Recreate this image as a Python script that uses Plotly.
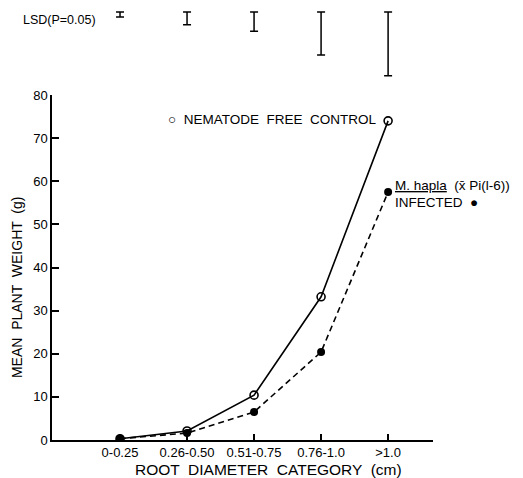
import plotly.graph_objects as go

categories = ["0-0.25", "0.26-0.50", "0.51-0.75", "0.76-1.0", ">1.0"]
cat_pos = [1, 2, 3, 4, 5]
control = [0.3, 2.1, 10.4, 33.2, 74.0]
infected = [0.3, 1.6, 6.5, 20.4, 57.5]
lsd = [1.2, 3.0, 4.5, 10.0, 14.8]
y_ticks = [0, 10, 20, 30, 40, 50, 60, 70, 80]

LSD_TOP = 18.1
FONT = "Liberation Sans, Arial, sans-serif"

fig = go.Figure()

fig.add_trace(go.Scatter(
    x=cat_pos, y=control, mode="lines+markers",
    line=dict(color="black", width=1.6),
    marker=dict(symbol="circle-open", size=8, color="black", line=dict(width=1.6)),
    showlegend=False))
fig.add_trace(go.Scatter(
    x=cat_pos, y=infected, mode="lines+markers",
    line=dict(color="black", width=1.6, dash="6px,4px"),
    marker=dict(symbol="circle", size=8, color="black"),
    showlegend=False))

# LSD bars at top
fig.add_trace(go.Scatter(
    x=cat_pos, y=[LSD_TOP - v / 2 for v in lsd], yaxis="y2", mode="markers",
    marker=dict(size=1, color="rgba(0,0,0,0)"),
    error_y=dict(type="data", array=[v / 2 for v in lsd], visible=True,
                 color="black", thickness=1.5, width=4),
    showlegend=False, hoverinfo="skip"))

fig.update_layout(
    width=523, height=478,
    margin=dict(l=52, r=90, t=8, b=38),
    paper_bgcolor="white", plot_bgcolor="white",
    font=dict(family=FONT, color="black", size=12),
    xaxis=dict(range=[-0.015, 5.67], tickvals=cat_pos, ticktext=categories,
               showgrid=False, zeroline=False, showline=True, linecolor="black",
               linewidth=1.5, ticks="inside", ticklen=6, tickwidth=1.5,
               tickcolor="black", tickfont=dict(size=13), automargin=False),
    yaxis=dict(domain=[0, 0.7986], range=[0, 80], tickvals=y_ticks,
               showgrid=False, zeroline=False, showline=True, linecolor="black",
               linewidth=1.5, ticks="inside", ticklen=7, tickwidth=1.5,
               tickcolor="black", tickfont=dict(size=13), automargin=False),
    yaxis2=dict(domain=[0.81, 1], range=[0, 19], visible=False,
                showgrid=False, zeroline=False),
    annotations=[
        dict(text="LSD(P=0.05)", xref="paper", yref="paper", x=0, y=1.0,
             xanchor="left", yanchor="top", showarrow=False,
             font=dict(size=12.5), xshift=-31, yshift=-3),
        dict(text="○  NEMATODE  FREE  CONTROL", xref="x", yref="y",
             x=5, y=74, xanchor="right", yanchor="middle", showarrow=False,
             xshift=-10, yshift=1, font=dict(size=13.5)),
        dict(text="<u>M. hapla</u>  (x̄ Pi(l-6))", xref="x", yref="y",
             x=5, y=57.5, xanchor="left", yanchor="middle", showarrow=False,
             xshift=5, yshift=7, font=dict(size=13.5)),
        dict(text="INFECTED  ●", xref="x", yref="y",
             x=5, y=57.5, xanchor="left", yanchor="middle", showarrow=False,
             xshift=5, yshift=-10, font=dict(size=13.5)),
        dict(text="ROOT  DIAMETER  CATEGORY  (cm)", xref="paper", yref="paper",
             x=0.515, y=0, xanchor="center", yanchor="top", showarrow=False,
             yshift=-19, xshift=20, font=dict(size=15.5)),
        dict(text="MEAN  PLANT  WEIGHT  (g)", xref="paper", yref="paper",
             x=0, y=0.354, xanchor="center", yanchor="middle", showarrow=False,
             xshift=-35, textangle=-90, font=dict(size=14)),
    ],
)

fig.write_html("out.html", config={"displayModeBar": False},
               post_script="document.body.style.margin='0';")
